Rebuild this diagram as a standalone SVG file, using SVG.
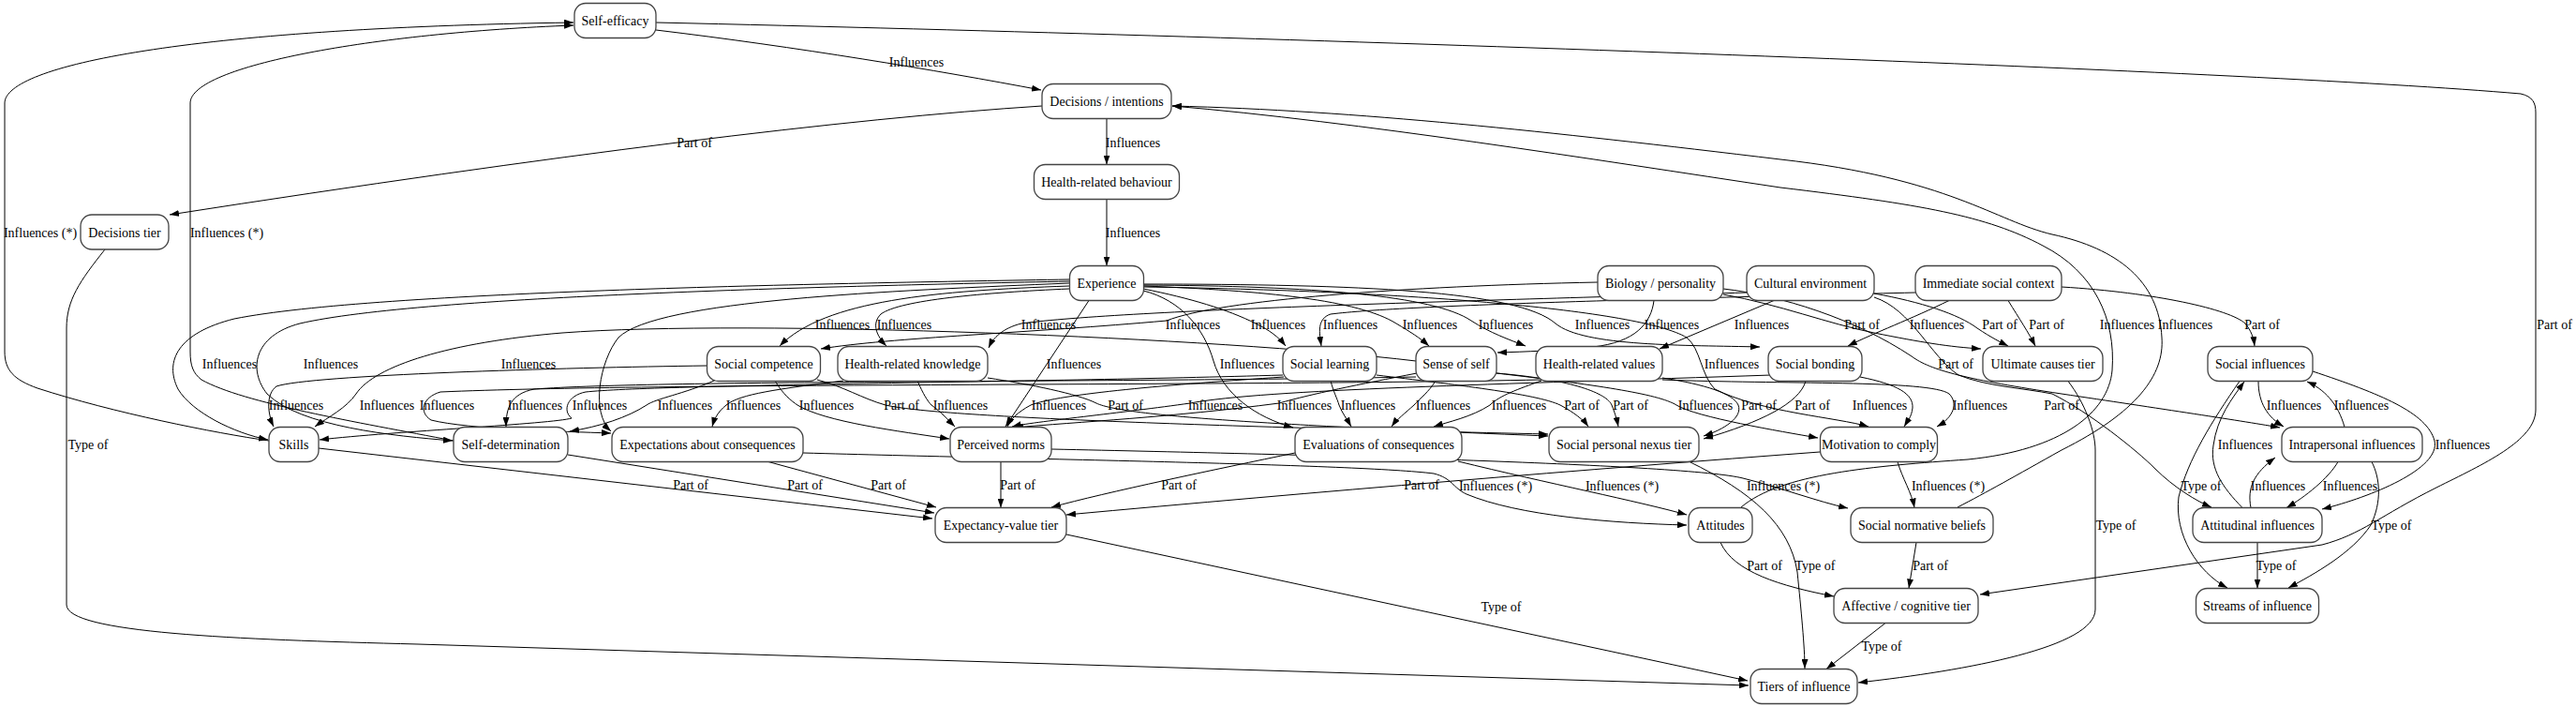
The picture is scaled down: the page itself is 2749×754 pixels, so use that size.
<svg xmlns="http://www.w3.org/2000/svg" width="2749" height="754" viewBox="0 0 2749 754">
<style>
.n rect{fill:#fff;stroke:#444;stroke-width:1.3}
.n text{font-family:"Liberation Serif",serif;font-size:14px;text-anchor:middle;fill:#000}
.e path{fill:none;stroke:#000;stroke-width:1;marker-end:url(#ah)}
.e text{font-family:"Liberation Serif",serif;font-size:14px;text-anchor:middle;fill:#000}
</style>
<defs>
<marker id="ah" markerWidth="10" markerHeight="7" refX="10" refY="3.5" orient="auto" markerUnits="userSpaceOnUse"><path d="M0,0 L10,3.5 L0,7 z" fill="#000"/></marker>
</defs>
<rect width="2749" height="754" fill="#fff"/>
<g id="connectors" class="e">
<path d="M700,32 C850,50 1000,75 1111,96"/><text x="978" y="71">Influences</text>
<path d="M700,24 C1400,40 2400,75 2690,100 C2703,103 2706,110 2706,120 L2706,437 C2706,470 2650,495 2600,520 C2540,550 2520,570 2478,581 L2113,634"/><text x="2726" y="351">Part of</text>
<path d="M1181,126.5 L1181,175.5"/><text x="1209" y="157">Influences</text>
<path d="M1181,212.5 L1181,283.5"/><text x="1209" y="253">Influences</text>
<path d="M1112,113 Q800,133 181,229"/><text x="741" y="157">Part of</text>
<path d="M112,266 C85,300 71,320 71,350 L71,645 C71,675 250,682 446,687 L1866,731"/><text x="94" y="479">Type of</text>
<path d="M287,470 C230,462 120,440 40,414 C15,405 5,395 5,375 L5,110 C5,70 200,30 612,24"/><text x="43" y="253">Influences (*)</text>
<path d="M484,470 C380,450 260,430 215,405 C206,398 203,390 203,375 L203,110 C203,70 400,35 612,27"/><text x="242" y="253">Influences (*)</text>
<path d="M1858,541 C1900,505 2000,497 2100,490 C2200,480 2250,440 2254,395 C2258,340 2235,290 2180,262 C2120,230 2050,218 1900,200 C1700,170 1450,130 1251,113"/><text x="2270" y="351">Influences</text>
<path d="M2089,541 C2120,525 2150,508 2200,480 C2280,440 2310,400 2307,360 C2304,300 2260,265 2190,250 C2130,236 2080,190 1900,170 C1650,140 1450,118 1251,113"/><text x="2332" y="351">Influences</text>
<path d="M1141,305 C1000,310 880,320 832,369"/><text x="899" y="351">Influences</text>
<path d="M1141,308 C1050,312 960,320 940,335 C930,345 935,358 946,369"/><text x="965" y="351">Influences</text>
<path d="M1220,308 C1270,318 1310,330 1340,345 C1355,352 1365,360 1372,369"/><text x="1364" y="351">Influences</text>
<path d="M1220,305 C1350,310 1450,320 1490,345 C1505,354 1515,360 1525,369"/><text x="1526" y="351">Influences</text>
<path d="M1220,304 C1400,305 1530,315 1570,342 C1590,355 1610,362 1628,369"/><text x="1607" y="351">Influences</text>
<path d="M1220,303 C1450,303 1620,310 1660,345 C1690,370 1800,368 1878,370"/><text x="1710" y="351">Influences</text>
<path d="M1141,298 C900,302 400,310 250,340 C190,355 175,385 190,415 C205,440 250,462 286,469"/><text x="245" y="393">Influences</text>
<path d="M1141,300 C900,305 450,315 320,345 C270,358 265,395 285,420 C320,455 420,465 483,470"/><text x="353" y="393">Influences</text>
<path d="M1141,302 C950,310 700,320 660,360 C640,385 630,440 652,460"/><text x="564" y="393">Influences</text>
<path d="M1162,320.5 L1073,455"/><text x="1146" y="393">Influences</text>
<path d="M1220,310 C1260,320 1285,350 1295,385 C1305,420 1340,445 1380,456"/><text x="1331" y="393">Influences</text>
<path d="M1220,306 C1500,310 1750,330 1800,360 C1815,372 1815,400 1830,415 C1880,440 1960,445 1994,455"/><text x="1848" y="393">Influences</text>
<path d="M1765,320.5 C1762,345 1745,365 1700,370 C1660,374 1630,375 1598,376"/><text x="1784" y="351">Influences</text>
<path d="M1893,320.5 L1771,372"/><text x="1880" y="351">Influences</text>
<path d="M2080,320.5 C2040,340 2000,355 1972,369"/><text x="2067" y="351">Influences</text>
<path d="M2044,312 C1800,318 1500,325 1420,335 C1405,340 1408,355 1410,369"/><text x="1441" y="351">Influences</text>
<path d="M1864,312 C1600,320 1200,330 1090,345 C1070,350 1060,360 1055,371"/><text x="1119" y="351">Influences</text>
<path d="M1705,301 C1500,305 1300,320 1245,342 C1100,355 950,360 876,372"/><text x="1273" y="351">Influences</text>
<path d="M1839,314 C1900,325 1950,345 2000,355 C2050,365 2080,370 2114,372"/><text x="1987" y="351">Part of</text>
<path d="M2000,313 C2050,322 2090,335 2110,350 C2125,360 2135,365 2143,369"/><text x="2134" y="351">Part of</text>
<path d="M2143,320.5 C2155,340 2165,355 2172,369"/><text x="2184" y="351">Part of</text>
<path d="M2200,306 C2300,312 2380,330 2396,345 C2402,352 2405,360 2406,369"/><text x="2414" y="351">Part of</text>
<path d="M1839,308 C1900,315 1980,340 2040,380 C2060,395 2100,405 2200,420 C2300,435 2400,450 2433,456"/><text x="2087" y="393">Part of</text>
<path d="M2000,317 C2040,330 2060,380 2090,400 C2120,412 2160,414 2190,420 C2230,440 2280,480 2300,500 C2320,520 2345,535 2360,541"/><text x="2200" y="437">Part of</text>
<path d="M754,390 C600,392 330,400 295,412 C284,420 285,440 292,455"/><text x="316" y="437">Influences</text>
<path d="M1511,385 C1300,360 800,340 600,355 C480,365 400,390 380,420 C370,435 350,445 336,455"/><text x="413" y="437">Influences</text>
<path d="M1645,405 C1300,412 700,408 470,418 C450,424 447,440 460,448 C500,458 600,460 652,462"/><text x="477" y="437">Influences</text>
<path d="M1511,402 C1200,408 700,405 570,415 C545,420 540,435 540,455"/><text x="571" y="437">Influences</text>
<path d="M1369,400 C1100,408 700,410 625,418 C605,422 600,438 610,446 C590,452 420,460 341,469"/><text x="640" y="437">Influences</text>
<path d="M762,406 C730,420 700,425 690,432 C670,445 640,455 608,460"/><text x="731" y="437">Influences</text>
<path d="M900,406 C830,415 790,420 775,432 C765,440 762,448 760,455"/><text x="804" y="437">Influences</text>
<path d="M827,406 C835,420 845,428 851,432 C880,450 960,460 1013,468"/><text x="882" y="437">Influences</text>
<path d="M979,406 C985,420 990,428 994,432 C1005,440 1012,448 1019,455"/><text x="1025" y="437">Influences</text>
<path d="M1370,402 C1250,410 1130,420 1100,432 C1085,440 1078,448 1075,455"/><text x="1130" y="437">Influences</text>
<path d="M1890,400 C1600,410 1350,415 1270,430 C1200,440 1100,450 1080,455"/><text x="1297" y="437">Influences</text>
<path d="M1512,398 C1450,410 1400,420 1365,430 C1250,445 1150,450 1082,456"/><text x="1392" y="437">Influences</text>
<path d="M1420,406 C1423,418 1427,425 1429,432 C1432,440 1438,448 1442,455"/><text x="1460" y="437">Influences</text>
<path d="M1532,406 C1525,418 1515,425 1509,432 C1500,440 1490,448 1485,455"/><text x="1540" y="437">Influences</text>
<path d="M1645,406 C1620,415 1600,422 1590,432 C1570,445 1545,450 1530,455"/><text x="1621" y="437">Influences</text>
<path d="M1597,398 C1700,410 1770,420 1789,432 C1810,445 1900,460 1940,467"/><text x="1820" y="437">Influences</text>
<path d="M1985,402 C2025,410 2042,420 2041,435 C2040,445 2035,450 2032,455"/><text x="2006" y="437">Influences</text>
<path d="M1774,405 C1900,410 2060,405 2080,420 C2090,430 2085,445 2067,455"/><text x="2113" y="437">Influences</text>
<path d="M872,405 C900,412 920,425 945,432 C1000,445 1300,455 1652,463"/><text x="962" y="437">Part of</text>
<path d="M1054,403 C1100,410 1150,420 1170,430 C1200,445 1400,455 1652,465"/><text x="1201" y="437">Part of</text>
<path d="M1469,400 C1550,410 1640,420 1665,432 C1680,440 1690,448 1695,455"/><text x="1688" y="437">Part of</text>
<path d="M1597,398 C1680,405 1715,420 1720,432 C1724,442 1726,450 1727,455"/><text x="1740" y="437">Part of</text>
<path d="M1774,403 C1820,410 1850,420 1855,432 C1860,445 1840,458 1818,465"/><text x="1877" y="437">Part of</text>
<path d="M1927,406.5 C1920,430 1880,450 1818,468"/><text x="1934" y="437">Part of</text>
<path d="M2410,406.5 C2410,430 2420,445 2437,455"/><text x="2448" y="437">Influences</text>
<path d="M2502,455.5 C2495,430 2480,415 2462,407"/><text x="2520" y="437">Influences</text>
<path d="M2393,541.5 C2372,520 2358,500 2362,475 C2366,445 2382,425 2395,407"/><text x="2396" y="479">Influences</text>
<path d="M2468,396 C2540,420 2590,440 2598,470 C2605,500 2530,530 2478,543"/><text x="2628" y="479">Influences</text>
<path d="M2402,541.5 C2398,520 2405,505 2428,488"/><text x="2431" y="523">Influences</text>
<path d="M2495,492.5 C2485,510 2460,530 2440,541.5"/><text x="2508" y="523">Influences</text>
<path d="M340,478 L995,553"/><text x="737" y="522">Part of</text>
<path d="M606,485 L997,547"/><text x="859" y="522">Part of</text>
<path d="M820,492.5 L999,541"/><text x="948" y="522">Part of</text>
<path d="M1068,492.5 L1068,541.5"/><text x="1086" y="522">Part of</text>
<path d="M1382,483 C1300,500 1180,525 1122,541"/><text x="1258" y="522">Part of</text>
<path d="M1942,482 C1700,500 1400,525 1138,549"/><text x="1517" y="522">Part of</text>
<path d="M857,483 C1100,490 1450,495 1530,505 C1550,510 1550,520 1565,527 C1620,550 1720,558 1800,560"/><text x="1596" y="523">Influences (*)</text>
<path d="M1556,492 C1650,515 1750,535 1800,549"/><text x="1731" y="523">Influences (*)</text>
<path d="M1122,479 C1400,485 1800,495 1860,510 C1900,520 1940,535 1972,542"/><text x="1903" y="523">Influences (*)</text>
<path d="M2025,492.5 C2030,510 2040,525 2043,541.5"/><text x="2079" y="523">Influences (*)</text>
<path d="M1836,578.5 C1850,610 1900,625 1957,636"/><text x="1883" y="608">Part of</text>
<path d="M2045,578.5 L2037,627.5"/><text x="2060" y="608">Part of</text>
<path d="M2409,578.5 L2409,627.5"/><text x="2429" y="608">Type of</text>
<path d="M2390,406.5 C2360,450 2335,490 2325,530 C2320,570 2345,610 2377,627"/><text x="2349" y="523">Type of</text>
<path d="M2531,492.5 C2540,510 2542,535 2530,560 C2510,590 2470,612 2442,627"/><text x="2552" y="565">Type of</text>
<path d="M2207,406.5 C2225,430 2236,460 2236,480 L2236,650 C2236,690 2100,715 1983,728"/><text x="2258" y="565">Type of</text>
<path d="M1802,492 C1870,525 1910,560 1918,610 C1922,650 1926,690 1926,713"/><text x="1937" y="608">Type of</text>
<path d="M1138,570 L1865,726"/><text x="1602" y="652">Type of</text>
<path d="M2012,664.5 L1949,713.5"/><text x="2008" y="694">Type of</text>
</g>
<g id="n-se" class="n"><rect x="613" y="3.5" width="87" height="37" rx="12"/><text x="656.5" y="27">Self-efficacy</text></g>
<g id="n-di" class="n"><rect x="1112" y="89.5" width="138" height="37" rx="12"/><text x="1181" y="113">Decisions / intentions</text></g>
<g id="n-hrb" class="n"><rect x="1103.5" y="175.5" width="155" height="37" rx="12"/><text x="1181" y="199">Health-related behaviour</text></g>
<g id="n-dt" class="n"><rect x="86" y="229" width="94" height="37" rx="12"/><text x="133" y="252.5">Decisions tier</text></g>
<g id="n-exp" class="n"><rect x="1141.5" y="283.5" width="79" height="37" rx="12"/><text x="1181" y="307">Experience</text></g>
<g id="n-bio" class="n"><rect x="1705" y="283.5" width="134" height="37" rx="12"/><text x="1772" y="307">Biology / personality</text></g>
<g id="n-cul" class="n"><rect x="1864" y="283.5" width="136" height="37" rx="12"/><text x="1932" y="307">Cultural environment</text></g>
<g id="n-isc" class="n"><rect x="2044" y="283.5" width="156" height="37" rx="12"/><text x="2122" y="307">Immediate social context</text></g>
<g id="n-sc" class="n"><rect x="754.5" y="369.5" width="121" height="37" rx="12"/><text x="815" y="393">Social competence</text></g>
<g id="n-hrk" class="n"><rect x="894" y="369.5" width="160" height="37" rx="12"/><text x="974" y="393">Health-related knowledge</text></g>
<g id="n-sl" class="n"><rect x="1369" y="369.5" width="100" height="37" rx="12"/><text x="1419" y="393">Social learning</text></g>
<g id="n-ss" class="n"><rect x="1511" y="369.5" width="86" height="37" rx="12"/><text x="1554" y="393">Sense of self</text></g>
<g id="n-hrv" class="n"><rect x="1639" y="369.5" width="135" height="37" rx="12"/><text x="1706.5" y="393">Health-related values</text></g>
<g id="n-sb" class="n"><rect x="1887" y="369.5" width="100" height="37" rx="12"/><text x="1937" y="393">Social bonding</text></g>
<g id="n-uct" class="n"><rect x="2116" y="369.5" width="128" height="37" rx="12"/><text x="2180" y="393">Ultimate causes tier</text></g>
<g id="n-si" class="n"><rect x="2356" y="369.5" width="112" height="37" rx="12"/><text x="2412" y="393">Social influences</text></g>
<g id="n-sk" class="n"><rect x="287" y="455.5" width="53" height="37" rx="12"/><text x="313.5" y="479">Skills</text></g>
<g id="n-sd" class="n"><rect x="484" y="455.5" width="122" height="37" rx="12"/><text x="545" y="479">Self-determination</text></g>
<g id="n-eac" class="n"><rect x="653" y="455.5" width="204" height="37" rx="12"/><text x="755" y="479">Expectations about consequences</text></g>
<g id="n-pn" class="n"><rect x="1014" y="455.5" width="108" height="37" rx="12"/><text x="1068" y="479">Perceived norms</text></g>
<g id="n-eoc" class="n"><rect x="1382" y="455.5" width="178" height="37" rx="12"/><text x="1471" y="479">Evaluations of consequences</text></g>
<g id="n-spn" class="n"><rect x="1653" y="455.5" width="160" height="37" rx="12"/><text x="1733" y="479">Social personal nexus tier</text></g>
<g id="n-mtc" class="n"><rect x="1942.5" y="455.5" width="125" height="37" rx="12"/><text x="2005" y="479">Motivation to comply</text></g>
<g id="n-ii" class="n"><rect x="2435" y="455.5" width="150" height="37" rx="12"/><text x="2510" y="479">Intrapersonal influences</text></g>
<g id="n-evt" class="n"><rect x="998" y="541.5" width="140" height="37" rx="12"/><text x="1068" y="565">Expectancy-value tier</text></g>
<g id="n-att" class="n"><rect x="1802" y="541.5" width="68" height="37" rx="12"/><text x="1836" y="565">Attitudes</text></g>
<g id="n-snb" class="n"><rect x="1975" y="541.5" width="152" height="37" rx="12"/><text x="2051" y="565">Social normative beliefs</text></g>
<g id="n-ai" class="n"><rect x="2340" y="541.5" width="138" height="37" rx="12"/><text x="2409" y="565">Attitudinal influences</text></g>
<g id="n-act" class="n"><rect x="1957" y="627.5" width="154" height="37" rx="12"/><text x="2034" y="651">Affective / cognitive tier</text></g>
<g id="n-soi" class="n"><rect x="2343.5" y="627.5" width="131" height="37" rx="12"/><text x="2409" y="651">Streams of influence</text></g>
<g id="n-toi" class="n"><rect x="1868" y="713.5" width="114" height="37" rx="12"/><text x="1925" y="737">Tiers of influence</text></g>
</svg>
